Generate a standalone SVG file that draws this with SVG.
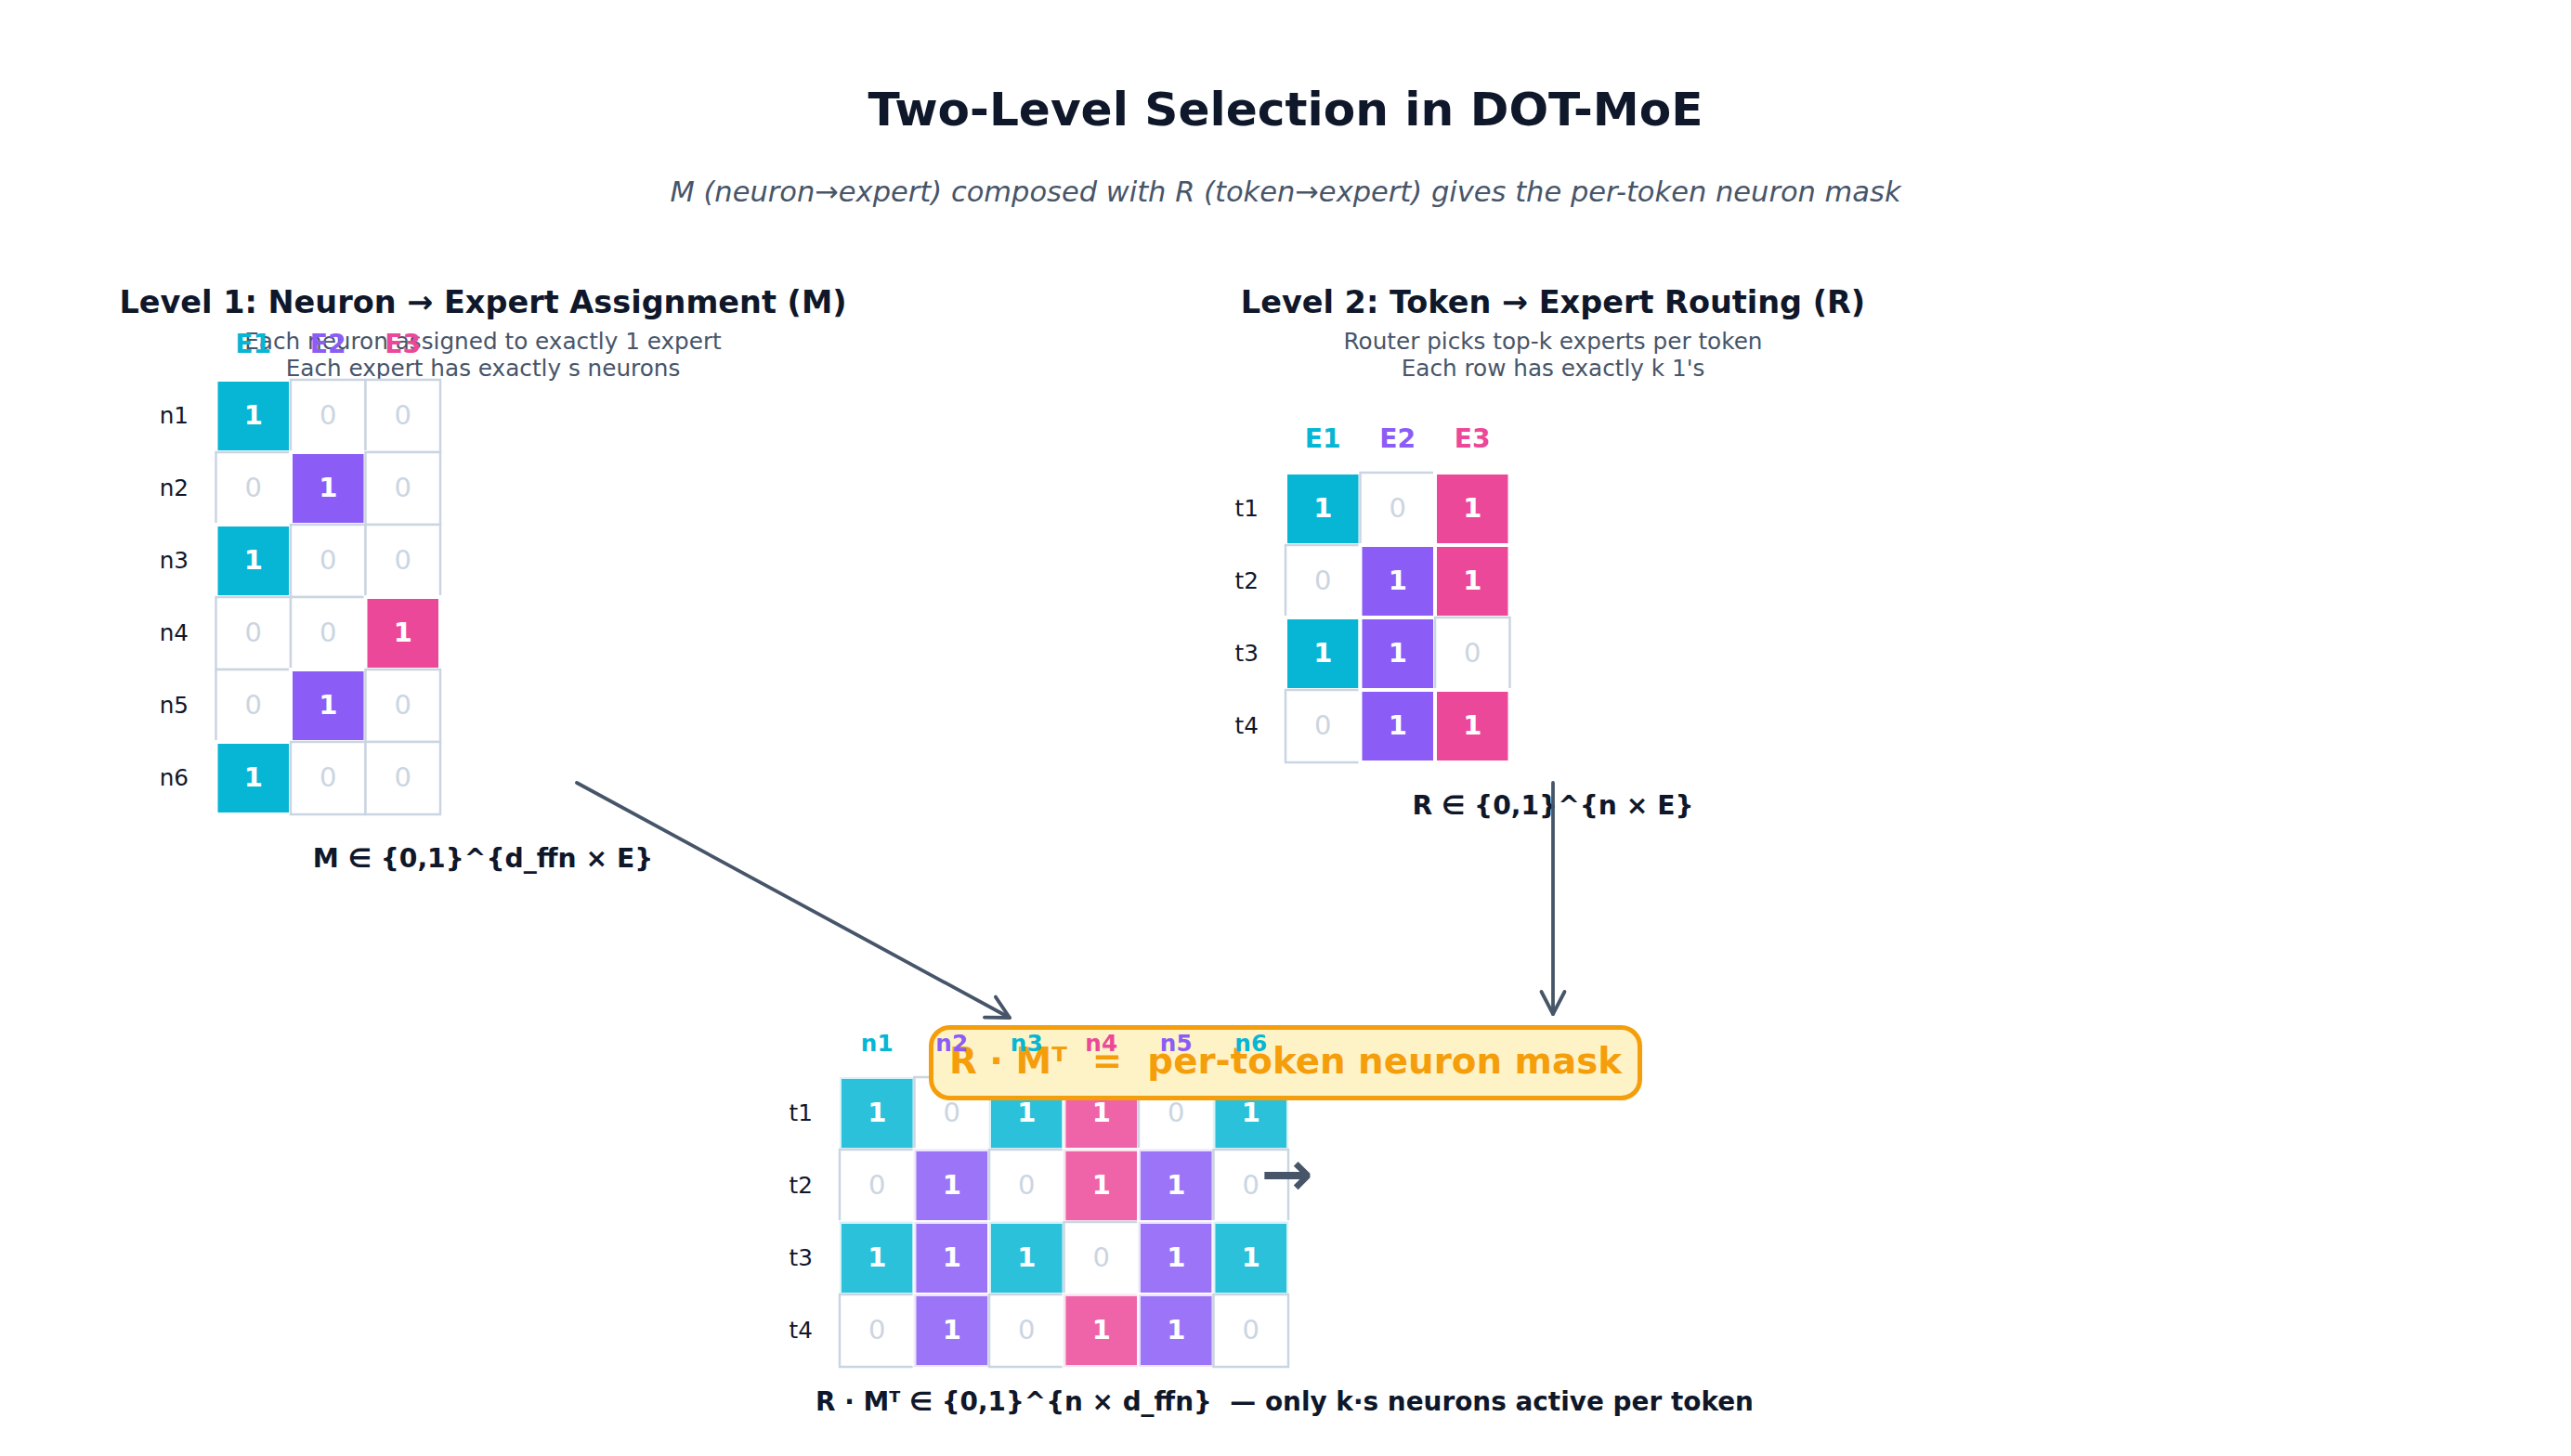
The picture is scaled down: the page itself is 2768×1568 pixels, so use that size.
<svg xmlns="http://www.w3.org/2000/svg" width="2768" height="1568" viewBox="0 0 2768 1568">
<defs>
<style>
text{font-family:"DejaVu Sans","Liberation Sans",sans-serif}
.title{font-size:50.2px;font-weight:bold;fill:#0f172a;text-anchor:middle}
.sub{font-size:30.5px;font-style:italic;fill:#475569;text-anchor:middle}
.head{font-size:33.5px;font-weight:bold;fill:#0f172a;text-anchor:middle}
.note{font-size:24.7px;fill:#475569;text-anchor:middle}
.cap{font-size:28.2px;font-weight:bold;fill:#0f172a;text-anchor:middle;white-space:pre}
.colE{font-size:28.2px;font-weight:bold;text-anchor:middle}
.coln{font-size:24.7px;font-weight:bold;text-anchor:middle}
.row{font-size:24.7px;fill:#0f172a;text-anchor:end}
.z{font-size:29px;fill:#cbd5e1;text-anchor:middle}
.o{font-size:29px;font-weight:bold;fill:#ffffff;text-anchor:middle}
.e{fill:#ffffff;stroke:#cbd5e1;stroke-width:2.5}
.c1{fill:#06b6d4;stroke:#ffffff;stroke-width:4}
.c2{fill:#8b5cf6;stroke:#ffffff;stroke-width:4}
.c3{fill:#ec4899;stroke:#ffffff;stroke-width:4}
.b1{fill:#06b6d4;fill-opacity:0.85;stroke:#ffffff;stroke-opacity:0.8;stroke-width:4}
.b2{fill:#8b5cf6;fill-opacity:0.85;stroke:#ffffff;stroke-opacity:0.8;stroke-width:4}
.b3{fill:#ec4899;fill-opacity:0.85;stroke:#ffffff;stroke-opacity:0.8;stroke-width:4}
.k1{fill:#06b6d4}.k2{fill:#8b5cf6}.k3{fill:#ec4899}
.conn{fill:none;stroke:#475569;stroke-width:3.8;stroke-linecap:round}
.box{fill:#fef3c7;stroke:#f59e0b;stroke-width:5}
.boxt{font-size:38.8px;font-weight:bold;fill:#f59e0b;text-anchor:middle;white-space:pre}
.bigarrow{font-size:67px;font-weight:bold;fill:#475569}
</style>
<marker id="ah" markerUnits="userSpaceOnUse" markerWidth="40" markerHeight="40" viewBox="-30 -20 40 40" refX="0" refY="0" orient="auto">
<path d="M-24,-12.5 L0,0 L-24,12.5" fill="none" stroke="#475569" stroke-width="3.8" stroke-linecap="round" stroke-linejoin="round"/>
</marker>
</defs>
<rect x="0" y="0" width="2768" height="1568" fill="#ffffff"/>

<g id="title">
<text class="title" x="1384" y="135">Two-Level Selection in DOT-MoE</text>
<text class="sub" x="1384" y="217">M (neuron→expert) composed with R (token→expert) gives the per-token neuron mask</text>
</g>

<g id="level1">
<text class="head" x="520" y="337">Level 1: Neuron → Expert Assignment (M)</text>
<text class="note" x="520" y="376">Each neuron assigned to exactly 1 expert</text>
<text class="note" x="520" y="405">Each expert has exactly s neurons</text>
<text class="colE k1" x="272.75" y="380">E1</text>
<text class="colE k2" x="353.25" y="380">E2</text>
<text class="colE k3" x="433.75" y="380">E3</text>
<text class="row" x="203" y="456">n1</text>
<text class="row" x="203" y="534">n2</text>
<text class="row" x="203" y="612">n3</text>
<text class="row" x="203" y="690">n4</text>
<text class="row" x="203" y="768">n5</text>
<text class="row" x="203" y="846">n6</text>
<rect class="c1" x="232.5" y="409" width="80.5" height="78"/>
<rect class="e" x="313" y="409" width="80.5" height="78"/>
<rect class="e" x="393.5" y="409" width="80.5" height="78"/>
<rect class="e" x="232.5" y="487" width="80.5" height="78"/>
<rect class="c2" x="313" y="487" width="80.5" height="78"/>
<rect class="e" x="393.5" y="487" width="80.5" height="78"/>
<rect class="c1" x="232.5" y="565" width="80.5" height="78"/>
<rect class="e" x="313" y="565" width="80.5" height="78"/>
<rect class="e" x="393.5" y="565" width="80.5" height="78"/>
<rect class="e" x="232.5" y="643" width="80.5" height="78"/>
<rect class="e" x="313" y="643" width="80.5" height="78"/>
<rect class="c3" x="393.5" y="643" width="80.5" height="78"/>
<rect class="e" x="232.5" y="721" width="80.5" height="78"/>
<rect class="c2" x="313" y="721" width="80.5" height="78"/>
<rect class="e" x="393.5" y="721" width="80.5" height="78"/>
<rect class="c1" x="232.5" y="799" width="80.5" height="78"/>
<rect class="e" x="313" y="799" width="80.5" height="78"/>
<rect class="e" x="393.5" y="799" width="80.5" height="78"/>
<text class="o" x="272.75" y="457">1</text><text class="z" x="353.25" y="457">0</text><text class="z" x="433.75" y="457">0</text>
<text class="z" x="272.75" y="535">0</text><text class="o" x="353.25" y="535">1</text><text class="z" x="433.75" y="535">0</text>
<text class="o" x="272.75" y="613">1</text><text class="z" x="353.25" y="613">0</text><text class="z" x="433.75" y="613">0</text>
<text class="z" x="272.75" y="691">0</text><text class="z" x="353.25" y="691">0</text><text class="o" x="433.75" y="691">1</text>
<text class="z" x="272.75" y="769">0</text><text class="o" x="353.25" y="769">1</text><text class="z" x="433.75" y="769">0</text>
<text class="o" x="272.75" y="847">1</text><text class="z" x="353.25" y="847">0</text><text class="z" x="433.75" y="847">0</text>
<text class="cap" x="520" y="934">M ∈ {0,1}^{d_ffn × E}</text>
</g>

<g id="level2">
<text class="head" x="1672" y="337">Level 2: Token → Expert Routing (R)</text>
<text class="note" x="1672" y="376">Router picks top-k experts per token</text>
<text class="note" x="1672" y="405">Each row has exactly k 1's</text>
<text class="colE k1" x="1424.25" y="482">E1</text>
<text class="colE k2" x="1504.75" y="482">E2</text>
<text class="colE k3" x="1585.25" y="482">E3</text>
<text class="row" x="1355" y="556">t1</text>
<text class="row" x="1355" y="634">t2</text>
<text class="row" x="1355" y="712">t3</text>
<text class="row" x="1355" y="790">t4</text>
<rect class="c1" x="1384" y="509" width="80.5" height="78"/>
<rect class="e" x="1464.5" y="509" width="80.5" height="78"/>
<rect class="c3" x="1545" y="509" width="80.5" height="78"/>
<rect class="e" x="1384" y="587" width="80.5" height="78"/>
<rect class="c2" x="1464.5" y="587" width="80.5" height="78"/>
<rect class="c3" x="1545" y="587" width="80.5" height="78"/>
<rect class="c1" x="1384" y="665" width="80.5" height="78"/>
<rect class="c2" x="1464.5" y="665" width="80.5" height="78"/>
<rect class="e" x="1545" y="665" width="80.5" height="78"/>
<rect class="e" x="1384" y="743" width="80.5" height="78"/>
<rect class="c2" x="1464.5" y="743" width="80.5" height="78"/>
<rect class="c3" x="1545" y="743" width="80.5" height="78"/>
<text class="o" x="1424.25" y="557">1</text><text class="z" x="1504.75" y="557">0</text><text class="o" x="1585.25" y="557">1</text>
<text class="z" x="1424.25" y="635">0</text><text class="o" x="1504.75" y="635">1</text><text class="o" x="1585.25" y="635">1</text>
<text class="o" x="1424.25" y="713">1</text><text class="o" x="1504.75" y="713">1</text><text class="z" x="1585.25" y="713">0</text>
<text class="z" x="1424.25" y="791">0</text><text class="o" x="1504.75" y="791">1</text><text class="o" x="1585.25" y="791">1</text>
<text class="cap" x="1672" y="877">R ∈ {0,1}^{n × E}</text>
</g>

<g id="result">
<text class="row" x="875" y="1207">t1</text>
<text class="row" x="875" y="1285">t2</text>
<text class="row" x="875" y="1363">t3</text>
<text class="row" x="875" y="1441">t4</text>
<rect class="b1" x="904" y="1160" width="80.5" height="78"/>
<rect class="e" x="984.5" y="1160" width="80.5" height="78"/>
<rect class="b1" x="1065" y="1160" width="80.5" height="78"/>
<rect class="b3" x="1145.5" y="1160" width="80.5" height="78"/>
<rect class="e" x="1226" y="1160" width="80.5" height="78"/>
<rect class="b1" x="1306.5" y="1160" width="80.5" height="78"/>
<rect class="e" x="904" y="1238" width="80.5" height="78"/>
<rect class="b2" x="984.5" y="1238" width="80.5" height="78"/>
<rect class="e" x="1065" y="1238" width="80.5" height="78"/>
<rect class="b3" x="1145.5" y="1238" width="80.5" height="78"/>
<rect class="b2" x="1226" y="1238" width="80.5" height="78"/>
<rect class="e" x="1306.5" y="1238" width="80.5" height="78"/>
<rect class="b1" x="904" y="1316" width="80.5" height="78"/>
<rect class="b2" x="984.5" y="1316" width="80.5" height="78"/>
<rect class="b1" x="1065" y="1316" width="80.5" height="78"/>
<rect class="e" x="1145.5" y="1316" width="80.5" height="78"/>
<rect class="b2" x="1226" y="1316" width="80.5" height="78"/>
<rect class="b1" x="1306.5" y="1316" width="80.5" height="78"/>
<rect class="e" x="904" y="1394" width="80.5" height="78"/>
<rect class="b2" x="984.5" y="1394" width="80.5" height="78"/>
<rect class="e" x="1065" y="1394" width="80.5" height="78"/>
<rect class="b3" x="1145.5" y="1394" width="80.5" height="78"/>
<rect class="b2" x="1226" y="1394" width="80.5" height="78"/>
<rect class="e" x="1306.5" y="1394" width="80.5" height="78"/>
<text class="o" x="944.25" y="1208">1</text><text class="z" x="1024.75" y="1208">0</text><text class="o" x="1105.25" y="1208">1</text><text class="o" x="1185.75" y="1208">1</text><text class="z" x="1266.25" y="1208">0</text><text class="o" x="1346.75" y="1208">1</text>
<text class="z" x="944.25" y="1286">0</text><text class="o" x="1024.75" y="1286">1</text><text class="z" x="1105.25" y="1286">0</text><text class="o" x="1185.75" y="1286">1</text><text class="o" x="1266.25" y="1286">1</text><text class="z" x="1346.75" y="1286">0</text>
<text class="o" x="944.25" y="1364">1</text><text class="o" x="1024.75" y="1364">1</text><text class="o" x="1105.25" y="1364">1</text><text class="z" x="1185.75" y="1364">0</text><text class="o" x="1266.25" y="1364">1</text><text class="o" x="1346.75" y="1364">1</text>
<text class="z" x="944.25" y="1442">0</text><text class="o" x="1024.75" y="1442">1</text><text class="z" x="1105.25" y="1442">0</text><text class="o" x="1185.75" y="1442">1</text><text class="o" x="1266.25" y="1442">1</text><text class="z" x="1346.75" y="1442">0</text>
<text class="cap" x="1383" y="1519" style="font-size:27.9px" xml:space="preserve">R · Mᵀ ∈ {0,1}^{n × d_ffn}  — only k·s neurons active per token</text>
</g>

<g id="mask-box">
<rect class="box" x="1002.5" y="1106.5" width="763" height="76" rx="20" ry="20"/>
<text class="boxt" x="1384" y="1156" xml:space="preserve">R · Mᵀ  =  per-token neuron mask</text>
</g>

<g id="result-cols">
<text class="coln k1" x="944.25" y="1132">n1</text>
<text class="coln k2" x="1024.75" y="1132">n2</text>
<text class="coln k1" x="1105.25" y="1132">n3</text>
<text class="coln k3" x="1185.75" y="1132">n4</text>
<text class="coln k2" x="1266.25" y="1132">n5</text>
<text class="coln k1" x="1346.75" y="1132">n6</text>
</g>

<g id="connectors">
<line class="conn" x1="621" y1="843" x2="1087" y2="1096" marker-end="url(#ah)"/>
<line class="conn" x1="1672" y1="843" x2="1672" y2="1092" marker-end="url(#ah)"/>
<text class="bigarrow" x="1357.5" y="1287">→</text>
</g>
</svg>
